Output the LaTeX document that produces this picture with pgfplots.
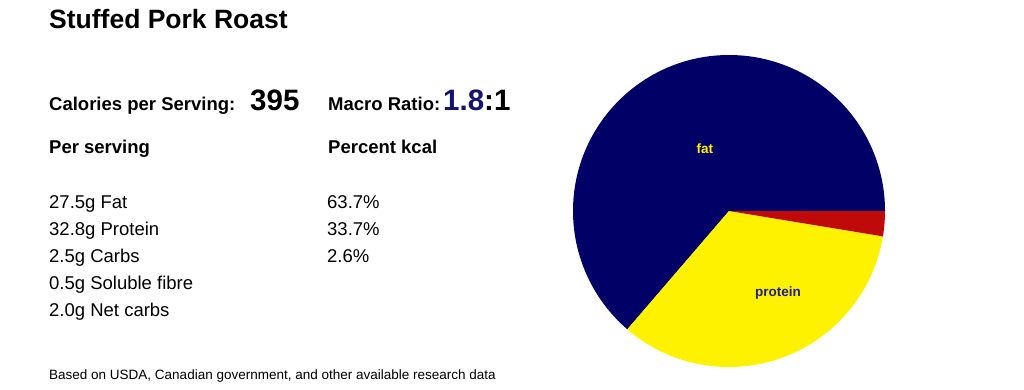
\documentclass[border=0pt]{standalone}
\usepackage{pgfplots}
\pgfplotsset{compat=1.18}
\usepackage{fontspec}
\setmainfont{Liberation Sans}
\definecolor{fatc}{RGB}{0,0,102}
\definecolor{protc}{RGB}{255,242,0}
\definecolor{carbc}{RGB}{192,10,10}
\definecolor{ratioc}{RGB}{20,20,112}
\definecolor{protlab}{RGB}{30,30,140}
% percent of kcal
\def\fatp{63.7}
\def\protp{33.7}
\def\carbp{2.6}
\begin{document}
\begin{tikzpicture}[x=1pt,y=1pt]
\useasboundingbox (0,0) rectangle (1024,-389);
\node[anchor=base west,inner sep=0] at (49,-28) {\fontsize{26.5}{30}\selectfont\bfseries Stuffed Pork Roast};
\node[anchor=base west,inner sep=0] at (49,-110) {\fontsize{18.5}{22}\selectfont\bfseries Calories per Serving:};
\node[anchor=base west,inner sep=0] at (250,-110) {\fontsize{29.5}{34}\selectfont\bfseries 395};
\node[anchor=base west,inner sep=0] at (328,-110) {\fontsize{18.5}{22}\selectfont\bfseries Macro Ratio:};
\node[anchor=base west,inner sep=0] at (443,-110) {\fontsize{29.5}{34}\selectfont\bfseries\textcolor{ratioc}{1.8}:1};
\node[anchor=base west,inner sep=0] at (49,-153) {\fontsize{18.5}{22}\selectfont\bfseries Per serving};
\node[anchor=base west,inner sep=0] at (328,-153) {\fontsize{18.5}{22}\selectfont\bfseries Percent kcal};
\foreach \t/\y in {27.5g Fat/208, 32.8g Protein/235, 2.5g Carbs/262, 0.5g Soluble fibre/289, 2.0g Net carbs/316}{
  \node[anchor=base west,inner sep=0] at (49,-\y) {\fontsize{18.5}{22}\selectfont \t};
}
\foreach \t/\y in {63.7\%/208, 33.7\%/235, 2.6\%/262}{
  \node[anchor=base west,inner sep=0] at (327,-\y) {\fontsize{18.5}{22}\selectfont \t};
}
\node[anchor=base west,inner sep=0] at (49,-379) {\fontsize{13.5}{16}\selectfont Based on USDA, Canadian government, and other available research data};
\pgfmathsetmacro{\aA}{3.6*\fatp}
\pgfmathsetmacro{\aB}{3.6*(\fatp+\protp)}
\pgfmathsetmacro{\xA}{cos(\aA)}
\pgfmathsetmacro{\yA}{sin(\aA)}
\pgfmathsetmacro{\xB}{cos(\aB)}
\pgfmathsetmacro{\yB}{sin(\aB)}
\begin{axis}[at={(729pt,-211pt)}, anchor=center, width=312pt, height=312pt,
  scale only axis, hide axis, xmin=-1, xmax=1, ymin=-1, ymax=1, clip=false]
\fill[fatc] (axis cs:0,0) -- (axis cs:1,0) arc[start angle=0, end angle=\aA, radius=156pt] -- cycle;
\fill[protc] (axis cs:0,0) -- (axis cs:\xA,\yA) arc[start angle=\aA, end angle=\aB, radius=156pt] -- cycle;
\fill[carbc] (axis cs:0,0) -- (axis cs:\xB,\yB) arc[start angle=\aB, end angle=360, radius=156pt] -- cycle;
\node[text=protc, font=\fontsize{13.5}{16}\selectfont\bfseries] at (axis cs:-0.154,0.397) {fat};
\node[text=protlab, font=\fontsize{13.5}{16}\selectfont\bfseries] at (axis cs:0.314,-0.526) {protein};
\end{axis}
\end{tikzpicture}
\end{document}
